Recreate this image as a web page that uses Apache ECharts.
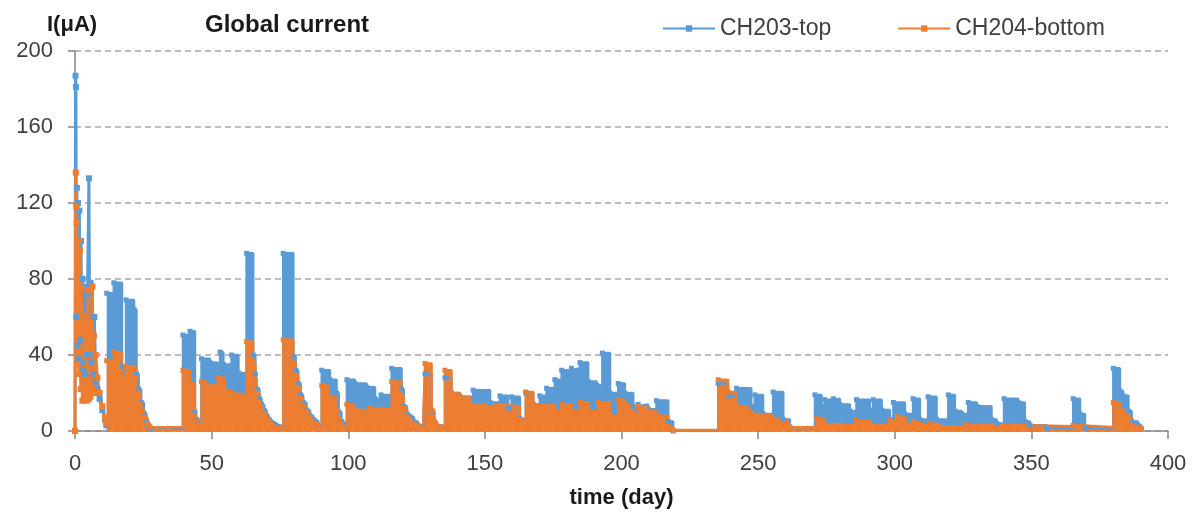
<!DOCTYPE html>
<html>
<head>
<meta charset="utf-8">
<title>Global current</title>
<script src="https://cdn.jsdelivr.net/npm/echarts@6/dist/echarts.min.js"></script>
<style>
  html, body { margin: 0; padding: 0; background: #fff; }
  #chart { width: 1200px; height: 515px; }
</style>
</head>
<body>
<div id="chart"></div>
<script>
const palette = {
  blue: "#5b9bd5",
  orange: "#ed7d31",
  grid: "#a6a6a6",
  axis: "#868686",
  text: "#404040",
  ink: "#1a1a1a",
};

const seriesNames = ["CH203-top", "CH204-bottom"];
const xTicks = { min: 0, max: 400, interval: 50 };
const yTicks = { min: 0, max: 200, interval: 40 };

// first days after switch-on: read as a plain line with markers, [day, µA]
const blueEarly = [
  [0, 0], [0.2, 187], [0.35, 181], [0.5, 60], [0.7, 128], [0.9, 45], [1.1, 120],
  [1.3, 38], [1.6, 116], [1.9, 48], [2.2, 100], [2.5, 36], [2.8, 80], [3.1, 32],
  [3.4, 76], [3.7, 30], [4, 72], [4.3, 40], [4.6, 75], [5.1, 133], [5.4, 40],
  [5.7, 78], [6, 36], [6.3, 76], [6.7, 30], [7.1, 60], [7.6, 26], [8.2, 22],
  [9, 17], [10, 11], [11, 6], [11.5, 3],
];
const orangeEarly = [
  [0, 0], [0.3, 136], [0.45, 118], [0.6, 109.5], [0.8, 35], [1.1, 100], [1.4, 30],
  [1.8, 95], [2.1, 22], [2.4, 75], [2.7, 16], [3, 60], [3.3, 16], [3.6, 55],
  [3.9, 17], [4.2, 58], [4.5, 16], [4.8, 74], [5.1, 17], [5.4, 55], [5.7, 18],
  [6, 52], [6.3, 76], [6.6, 22], [6.9, 50], [7.2, 20], [7.6, 40], [8.2, 28],
  [9, 20], [10, 13], [11, 7], [11.5, 4],
];

// rest of the run: upper level of each block, [day, µA]
const blueMain = [
  [11.6, 72.5], [14.2, 78], [17.2, 34], [18.7, 69], [21.6, 64], [22.5, 30], [23.3, 22],
  [24.2, 15], [25.2, 9.5], [26.1, 5], [27, 2], [28, 1], [39.5, 50.5], [42.1, 52.5],
  [43.9, 10], [44.6, 6], [45.4, 4], [46.3, 38], [49.4, 36], [51.8, 35], [53.1, 41.5],
  [54.3, 35], [57.3, 40], [59.8, 30.5], [62.8, 93.5], [65.2, 40], [66, 30], [66.7, 22],
  [67.5, 17], [68.3, 14], [69.2, 11], [70.1, 8], [71, 6], [71.9, 4.5], [73.5, 3],
  [75, 2], [76.2, 93.5], [79.9, 39], [80.8, 32], [81.7, 25], [82.6, 19], [83.5, 15],
  [84.7, 11], [86, 8], [87.2, 6], [88.4, 4.5], [89.3, 2.5], [90.3, 32], [93.3, 27],
  [95.7, 20], [96.5, 10], [97.5, 5], [98.5, 3], [99.5, 27], [102.4, 25], [106.7, 23],
  [109.8, 17], [112, 19], [115.9, 33], [119.5, 22], [120.3, 13], [121.5, 9], [122.6, 7.5],
  [124, 5], [125.5, 3], [127.4, 2], [128.1, 30], [130.5, 10], [131.5, 5], [132.3, 3],
  [134, 2], [135.4, 28], [137.8, 20], [140.9, 18], [145.7, 21.5], [151.9, 15],
  [155.5, 18.5], [158.5, 12], [159.8, 18], [162.8, 6.5], [165, 20], [167.7, 14],
  [170.1, 18.5], [172.6, 22.5], [175.6, 27], [178.1, 32], [181.7, 33], [184.8, 36],
  [187.8, 26], [190.9, 24], [193, 41], [195.8, 20], [198.8, 25], [201.2, 20], [204.3, 13],
  [206.1, 14], [209.8, 11.5], [212.8, 16], [217.1, 5], [218.9, 0], [235.4, 25], [239, 18.5],
  [242.1, 22.5], [247.5, 13], [248.8, 19], [251.8, 9], [255.5, 20.5], [259.2, 6],
  [261.6, 2], [270.8, 19], [273.2, 13], [274.4, 16.5], [277.5, 17], [279.9, 14],
  [283.6, 10.5], [286, 16.5], [290.9, 11], [292.1, 16.5], [295.2, 11], [298.2, 6],
  [299.5, 15], [303.7, 9], [306.7, 17], [309.2, 6], [312.2, 18], [315.3, 6], [319.6, 19],
  [322, 10.5], [324.5, 9], [326.9, 15], [330, 13], [335.4, 6], [337.3, 4], [340, 17],
  [345.2, 15], [347.6, 5], [349.5, 3], [355.6, 1.5], [365.3, 17], [367.8, 9], [369.6, 1.5],
  [380, 33], [382.4, 21], [383.6, 18.5], [385.5, 10.5], [386.7, 5], [389, 3], [390.3, 1],
];
const orangeMain = [
  [11.6, 37], [14.2, 41.5], [17.2, 28], [18.7, 34], [22.3, 28], [23, 20], [23.8, 14],
  [24.6, 10], [25.5, 7], [26.5, 4], [27.5, 2], [39.5, 32], [42.1, 25], [43.9, 8],
  [44.6, 5], [45.4, 3], [46.3, 26], [48.2, 24], [52.4, 28], [54.9, 21], [57.9, 18],
  [59.8, 19], [62.8, 47], [65.2, 36], [66, 27], [66.7, 20], [67.5, 15], [68.3, 12],
  [69.2, 9], [70.1, 7], [71, 5], [71.9, 3.5], [73.5, 2], [75, 1.5], [76.2, 48],
  [79.9, 36], [80.8, 29], [81.7, 23], [82.6, 17], [83.5, 13], [84.7, 10], [86, 7],
  [87.2, 5], [88.4, 3.5], [89.3, 2], [90.3, 24], [92.7, 18], [95.7, 10], [96.5, 6],
  [97.5, 3.5], [98.5, 2], [99.5, 14], [102.4, 11], [107.9, 12], [112, 11.5], [115.9, 26],
  [119.5, 18], [120.3, 12], [121.5, 7.5], [122.6, 5.5], [124, 4], [125.5, 2.5],
  [127.4, 1.5], [128.1, 35.5], [130.5, 11], [131.5, 5], [132.3, 3], [134, 2], [135.4, 32],
  [137.8, 20], [140.9, 18], [144.5, 14], [155.5, 13], [162.8, 6], [165, 20.5], [167.7, 14],
  [175.6, 10.5], [178.1, 14], [181.7, 10.5], [184.8, 15], [187.8, 10.5], [191.5, 15],
  [195.8, 8], [198.8, 16.5], [201.2, 14], [204.3, 9], [206.1, 13], [209.8, 10.5],
  [212.8, 8], [217.1, 2], [218.9, 0.5], [235.4, 27], [239, 20.5], [242.1, 13], [247.5, 9],
  [251.8, 8], [255.5, 6], [260.4, 4], [261.6, 2], [271.5, 6.5], [274.4, 3.5], [280, 3],
  [286, 5.5], [291, 3], [298.2, 5.5], [301, 7.5], [304, 3.5], [306.7, 5], [310, 3],
  [313, 4], [316, 2.5], [326, 3.5], [329, 2.5], [365.3, 3], [367.8, 2], [380, 15],
  [382.4, 11], [385.5, 7], [386.7, 3], [389, 2], [390.3, 1],
];

const font = "'Liberation Sans', Arial, sans-serif";

function earlyLine(name, color, data) {
  return {
    name,
    type: "line",
    data,
    symbol: "rect",
    symbolSize: 6,
    showAllSymbol: true,
    lineStyle: { color, width: 3 },
    itemStyle: { color },
  };
}

function blockArea(name, color, data) {
  return {
    name,
    type: "line",
    step: "end",
    data,
    symbol: "rect",
    symbolSize: 5,
    showAllSymbol: true,
    lineStyle: { color, width: 2.5 },
    itemStyle: { color },
    areaStyle: { color, opacity: 1 },
  };
}

const chart = echarts.init(document.getElementById("chart"), null, { renderer: "canvas" });
chart.setOption({
  animation: false,
  textStyle: { fontFamily: font },
  title: [
    { text: "Global current", left: 200, top: 8, textStyle: { fontFamily: font, fontSize: 24, fontWeight: "bold", color: palette.ink } },
    { text: "I(μA)", left: 42, top: 9, textStyle: { fontFamily: font, fontSize: 22, fontWeight: "bold", color: palette.ink } },
  ],
  legend: {
    data: seriesNames,
    left: 657,
    top: 12,
    itemWidth: 52,
    itemHeight: 8,
    itemGap: 66,
    textStyle: { fontFamily: font, fontSize: 23, color: palette.text },
  },
  grid: { left: 75, right: 32, top: 51, bottom: 84 },
  xAxis: {
    type: "value",
    ...xTicks,
    name: "time (day)",
    nameLocation: "middle",
    nameGap: 56,
    nameTextStyle: { fontFamily: font, fontSize: 22, fontWeight: "bold", color: palette.ink },
    axisLine: { onZero: false, lineStyle: { color: palette.axis, width: 1.5 } },
    axisTick: { length: 8, lineStyle: { color: palette.axis, width: 1.5 } },
    axisLabel: { margin: 22, fontSize: 22, color: palette.text },
    splitLine: { show: false },
  },
  yAxis: {
    type: "value",
    ...yTicks,
    axisLine: { show: true, lineStyle: { color: palette.axis, width: 1.5 } },
    axisTick: { show: true, length: 7, lineStyle: { color: palette.axis, width: 1.5 } },
    axisLabel: { margin: 22, fontSize: 22, color: palette.text },
    splitLine: { lineStyle: { color: palette.grid, width: 1.5, type: [6, 4] } },
  },
  series: [
    earlyLine(seriesNames[0], palette.blue, blueEarly),
    blockArea(seriesNames[0], palette.blue, blueMain),
    earlyLine(seriesNames[1], palette.orange, orangeEarly),
    blockArea(seriesNames[1], palette.orange, orangeMain),
  ],
});
</script>
</body>
</html>
